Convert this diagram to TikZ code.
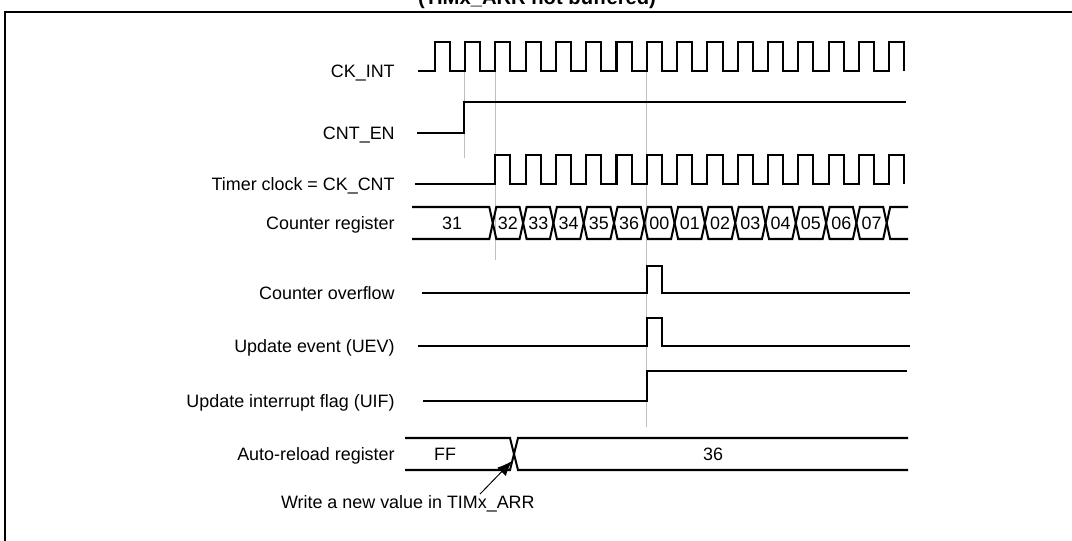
\documentclass[tikz,border=0pt]{standalone}
\usepackage{fontspec}
\setmainfont{Liberation Sans}
\usepackage{tikz}
\usetikzlibrary{arrows.meta,positioning,calc}
\newcommand{\SigName}[3]{%
  \node[signame] (#1) at (395,{#2+6.4}) {#3};
}

\begin{document}
\begin{tikzpicture}[x=0.02cm, y=-0.02cm,
  signame/.style={anchor=base east, inner sep=0pt, font=\fontsize{10.2pt}{12pt}\selectfont},
  busval/.style={anchor=base, inner sep=0pt, font=\fontsize{10.2pt}{12pt}\selectfont},
  wave/.style={line width=1.15pt},
  guide/.style={draw=black!25, line width=0.55pt},
  pointer/.style={-{Latex[length=3mm,width=2.4mm]}, line width=0.55pt}]
  \useasboundingbox (0,0) rectangle (1072,541);

  % frame and title
  \draw[line width=1.15pt] (5,545) -- (5,12) -- (1076,12);
  \node[anchor=base, inner sep=0pt, font=\bfseries\fontsize{11.5pt}{13pt}\selectfont] (title) at (537,5) {(TIMx\_ARR not buffered)};

  % signal names
  \SigName{ckint}{71}{CK\_INT}
  \SigName{cnten}{133}{CNT\_EN}
  \SigName{ckcnt}{184}{Timer clock = CK\_CNT}
  \SigName{cntreg}{223}{Counter register}
  \SigName{ovf}{293}{Counter overflow}
  \SigName{uev}{346}{Update event (UEV)}
  \SigName{uif}{401}{Update interrupt flag (UIF)}
  \SigName{arr}{454}{Auto-reload register}

  % guide lines
  \draw[guide] (464,72) -- (464,158);
  \draw[guide] (495.3,72) -- (495.3,260);
  \draw[guide] (646.8,72) -- (646.8,427);

  % clocks
  \draw[wave] (418,71) \foreach \k in {0,...,15} {
    -- ({434.7+30.3*\k},71) -- ({434.7+30.3*\k},42)
    -- ({449.85+30.3*\k},42) -- ({449.85+30.3*\k},71)};
  \draw[wave] (417,133) -- (464,133) -- (464,102) -- (906,102);
  \draw[wave] (415,184) \foreach \k in {2,...,15} {
    -- ({434.7+30.3*\k},184) -- ({434.7+30.3*\k},155)
    -- ({449.85+30.3*\k},155) -- ({449.85+30.3*\k},184)};

  % counter register
  \draw[wave] (412,207) -- (489.3,207) -- (492.8,223) -- (489.3,239) -- (412,239);
  \node[busval] (c31) at (452,229.4) {31};
  \foreach \k/\v in {0/32,1/33,2/34,3/35,4/36,5/00,6/01,7/02,8/03,9/04,10/05,11/06,12/07} {
    \draw[wave] ({492.8+30.3*\k},223) -- ++(3.5,-16) -- ({492.8+30.3*(\k+1)-3.5},207)
      -- ++(3.5,16) -- ++(-3.5,16) -- ({492.8+30.3*\k+3.5},239) -- cycle;
    \node[busval] (c\k) at ({492.8+30.3*\k+15.15},229.4) {\v};
  }
  \draw[wave] (908,207) -- (890.2,207) -- (886.7,223) -- (890.2,239) -- (908,239);

  % overflow, update event, flag
  \draw[wave] (422,293) -- (646.8,293) -- (646.8,266) -- (661.95,266) -- (661.95,293) -- (910,293);
  \draw[wave] (418,346) -- (646.8,346) -- (646.8,318) -- (661.95,318) -- (661.95,346) -- (910,346);
  \draw[wave] (423,401) -- (646.8,401) -- (646.8,371) -- (907,371);

  % auto-reload register
  \draw[wave] (405,438) -- (510,438) -- (514,454) -- (510,470) -- (405,470);
  \draw[wave] (908,438) -- (518,438) -- (514,454) -- (518,470) -- (908,470);
  \node[busval] (ff) at (445,460.4) {FF};
  \node[busval] (newarr) at (713,460.4) {36};

  % write note
  \node[signame, anchor=base east] (write) at (535,508.4) {Write a new value in TIMx\_ARR};
  \coordinate (arrtip) at (512,461);
  \draw[pointer] ($(write.north east)+(-55,-1)$) -- (arrtip);
\end{tikzpicture}
\end{document}
